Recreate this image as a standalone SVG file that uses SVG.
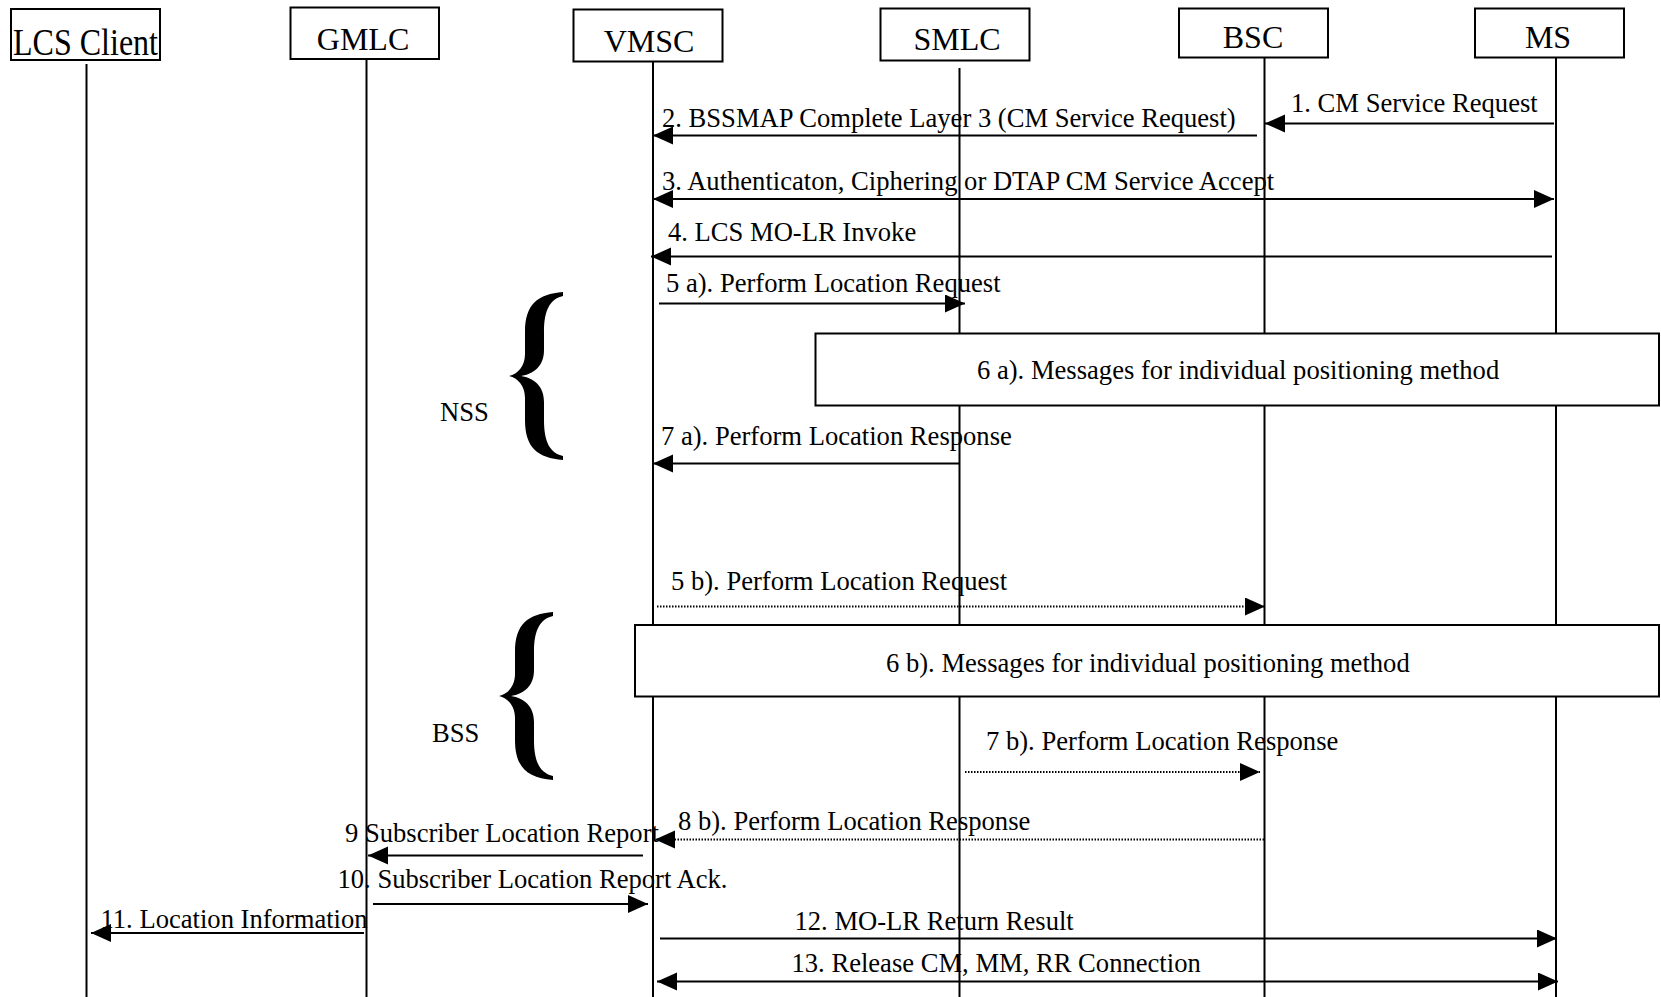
<svg xmlns="http://www.w3.org/2000/svg" width="1661" height="997" viewBox="0 0 1661 997">
<style>
.box{fill:#fff;stroke:#000;stroke-width:2}
.life{stroke:#000;stroke-width:2;fill:none}
.lbl{font-family:"Liberation Serif","Times New Roman",serif;font-size:32px;fill:#000;text-anchor:middle}
.msg{font-family:"Liberation Serif","Times New Roman",serif;font-size:26.6px;fill:#000}
.arr{stroke:#000;stroke-width:2;fill:none;marker-end:url(#ah)}
.bi{marker-start:url(#ahs)}
.dot{stroke-dasharray:1.5 1.5}
.brace{fill:#000}
</style>
<defs>
<marker id="ah" markerUnits="userSpaceOnUse" markerWidth="22" markerHeight="20" refX="20" refY="9" orient="auto"><path d="M0,0 L20,9 L0,18 Z" fill="#000"/></marker>
<marker id="ahs" markerUnits="userSpaceOnUse" markerWidth="22" markerHeight="20" refX="20" refY="9" orient="auto-start-reverse"><path d="M0,0 L20,9 L0,18 Z" fill="#000"/></marker>
<path id="bracePath" d="M54,0 C29,2 16,12 16,40 L16,62 C16,74 9,82 0,84 C9,86 16,94 16,106 L16,128 C16,156 29,166 54,168 L54,164 C41,161 35,150 35,128 L35,110 C35,94 25,86 12,84 C25,82 35,74 35,58 L35,40 C35,18 41,7 54,4 Z"/>
</defs>

<g id="node-lcs-client">
<rect class="box" x="11" y="9" width="149" height="51"/>
<line class="life" x1="86.5" y1="64" x2="86.5" y2="997"/>
<text class="lbl" x="85.5" y="55" style="font-size:38px" textLength="145" lengthAdjust="spacingAndGlyphs">LCS Client</text>
</g>
<g id="node-gmlc">
<rect class="box" x="290.5" y="7.5" width="148.5" height="51.5"/>
<line class="life" x1="366.5" y1="60" x2="366.5" y2="997"/>
<text class="lbl" x="363" y="50">GMLC</text>
</g>
<g id="node-vmsc">
<rect class="box" x="573.5" y="9.5" width="149" height="52"/>
<line class="life" x1="653" y1="61.5" x2="653" y2="997"/>
<text class="lbl" x="649" y="52">VMSC</text>
</g>
<g id="node-smlc">
<rect class="box" x="880.5" y="8.5" width="149" height="52"/>
<line class="life" x1="959.5" y1="68" x2="959.5" y2="997"/>
<text class="lbl" x="957" y="50">SMLC</text>
</g>
<g id="node-bsc">
<rect class="box" x="1179" y="8.5" width="149" height="49"/>
<line class="life" x1="1264.5" y1="58" x2="1264.5" y2="997"/>
<text class="lbl" x="1253" y="48">BSC</text>
</g>
<g id="node-ms">
<rect class="box" x="1475" y="8.5" width="149" height="49"/>
<line class="life" x1="1556" y1="58" x2="1556" y2="997"/>
<text class="lbl" x="1548" y="48">MS</text>
</g>

<g id="note-6a">
<rect class="box" x="815.5" y="333.5" width="843.5" height="72"/>
<text class="msg" x="977" y="378.5">6 a). Messages for individual positioning method</text>
</g>
<g id="note-6b">
<rect class="box" x="635" y="625" width="1024" height="71.5"/>
<text class="msg" x="886" y="671.5">6 b). Messages for individual positioning method</text>
</g>

<g id="group-nss">
<use href="#bracePath" class="brace" transform="translate(509,292)"/>
<text class="msg" x="440" y="420.5">NSS</text>
</g>
<g id="group-bss">
<use href="#bracePath" class="brace" transform="translate(499,612)"/>
<text class="msg" x="432" y="741.5">BSS</text>
</g>

<g id="connectors">
<line class="arr" x1="1554" y1="123.5" x2="1265" y2="123.5"/>
<text class="msg" x="1291" y="112">1. CM Service Request</text>
<line class="arr" x1="1257" y1="135.5" x2="653" y2="135.5"/>
<text class="msg" x="662" y="127">2. BSSMAP Complete Layer 3 (CM Service Request)</text>
<line class="arr bi" x1="653" y1="199" x2="1554" y2="199"/>
<text class="msg" x="662" y="189.5">3. Authenticaton, Ciphering or DTAP CM Service Accept</text>
<line class="arr" x1="1552" y1="256.5" x2="651" y2="256.5"/>
<text class="msg" x="668" y="240.5">4. LCS MO-LR Invoke</text>
<line class="arr" x1="659" y1="303.5" x2="965" y2="303.5"/>
<text class="msg" x="666" y="291.5">5 a). Perform Location Request</text>
<line class="arr" x1="959" y1="463.5" x2="653" y2="463.5"/>
<text class="msg" x="661" y="445">7 a). Perform Location Response</text>
<line class="arr dot" x1="657" y1="606.5" x2="1265" y2="606.5"/>
<text class="msg" x="671" y="590">5 b). Perform Location Request</text>
<line class="arr dot" x1="965" y1="772" x2="1260" y2="772"/>
<text class="msg" x="986" y="750">7 b). Perform Location Response</text>
<line class="arr dot" x1="1264" y1="839.5" x2="655" y2="839.5"/>
<text class="msg" x="678" y="830">8 b). Perform Location Response</text>
<line class="arr" x1="643" y1="855.5" x2="368" y2="855.5"/>
<text class="msg" x="345" y="842">9 Subscriber Location Report</text>
<line class="arr" x1="373" y1="904" x2="648" y2="904"/>
<text class="msg" x="337.5" y="888">10. Subscriber Location Report Ack.</text>
<line class="arr" x1="364" y1="933" x2="91" y2="933"/>
<text class="msg" x="100.5" y="928">11. Location Information</text>
<line class="arr" x1="660" y1="938.5" x2="1557" y2="938.5"/>
<text class="msg" x="794.5" y="930">12. MO-LR Return Result</text>
<line class="arr bi" x1="657" y1="981.5" x2="1558" y2="981.5"/>
<text class="msg" x="791.5" y="971.5">13. Release CM, MM, RR Connection</text>
</g>
</svg>
